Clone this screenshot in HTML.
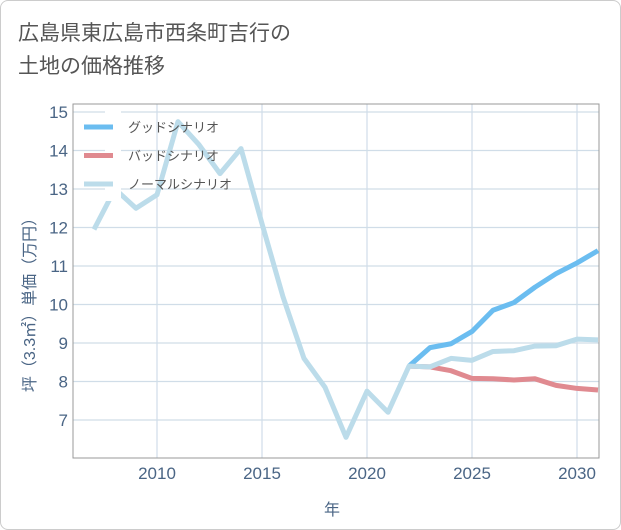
<!DOCTYPE html>
<html><head><meta charset="utf-8"><style>
body{margin:0;background:#fff;}
#wrap{position:relative;width:619px;height:528px;border:1px solid #ccc;border-radius:8px;overflow:hidden;font-family:"Liberation Sans","Noto Sans CJK JP",sans-serif;}
.title{position:absolute;left:17px;top:16px;font-size:21px;line-height:33px;color:#555;}
</style></head><body>
<div id="wrap">
<div class="title">広島県東広島市西条町吉行の<br>土地の価格推移</div>
<svg id="chart" width="621" height="530" style="position:absolute;left:0;top:0"></svg>
</div>
<script>
const years=[2007,2008,2009,2010,2011,2012,2013,2014,2015,2016,2017,2018,2019,2020,2021,2022,2023,2024,2025,2026,2027,2028,2029,2030,2031];
const normal=[11.95,13.0,12.5,12.85,14.75,14.15,13.4,14.05,12.1,10.2,8.6,7.85,6.55,7.75,7.2,8.4,8.38,8.6,8.55,8.78,8.8,8.92,8.93,9.1,9.08];
const goodYears=[2022,2023,2024,2025,2026,2027,2028,2029,2030,2031];
const good=[8.4,8.88,8.98,9.3,9.85,10.05,10.45,10.8,11.08,11.4];
const bad=[8.4,8.38,8.28,8.08,8.07,8.04,8.07,7.9,7.82,7.78];
const xTicks=[2010,2015,2020,2025,2030];
const yTicks=[7,8,9,10,11,12,13,14,15];
const L=72,R=598,T=103,B=457;
const x=v=>156+(v-2010)*21;
const y=v=>111+(15-v)*38.5;
const svg=document.getElementById('chart');
const NS='http://www.w3.org/2000/svg';
function mk(tag,attrs,parent){const e=document.createElementNS(NS,tag);for(const k in attrs)e.setAttribute(k,attrs[k]);(parent||svg).appendChild(e);return e;}
xTicks.forEach(t=>{
 const g=mk('line',{x1:x(t),x2:x(t),y1:T,y2:B,stroke:'#d0dde8','stroke-width':1.2});
 
 
 const tx=mk('text',{x:x(t),y:478,'text-anchor':'middle','font-size':17,fill:'#4a6585'});
 tx.textContent=t;
 
 
});
yTicks.forEach(t=>{
 const g=mk('line',{x1:L,x2:R,y1:y(t),y2:y(t),stroke:'#d0dde8','stroke-width':1.2});
 
 
 const tx=mk('text',{x:67,y:y(t)+6,'text-anchor':'end','font-size':17,fill:'#4a6585'});
 tx.textContent=t;
 
 
});
const frame=mk('rect',{x:L,y:T,width:R-L,height:B-T,fill:'none',stroke:'#999','stroke-width':1});


const clip=mk('clipPath',{id:'cp'});mk('rect',{x:L,y:T,width:R-L,height:B-T},clip);
function line(xs,vs,color,name){
 const p=mk('polyline',{points:vs.map((v,i)=>x(xs[i])+','+y(v)).join(' '),fill:'none',stroke:color,'stroke-width':5,'stroke-linejoin':'round','clip-path':'url(#cp)'});
 
 
}
line(goodYears,bad,'#e08a90','bad-scenario-line');
line(goodYears,good,'#6bbdf0','good-scenario-line');
line(years,normal,'#bcdcea','normal-scenario-line');
const lb=mk('rect',{x:104,y:108,width:16,height:92,fill:'#fff'});


[['グッドシナリオ','#6bbdf0'],['バッドシナリオ','#e08a90'],['ノーマルシナリオ','#bcdcea']].forEach((d,i)=>{
 const yy=126+i*28.5;
 const g=mk('g',{});
 
 
 mk('line',{x1:83,x2:112,y1:yy,y2:yy,stroke:d[1],'stroke-width':5},g);
 const t=mk('text',{x:127,y:yy+5,'font-size':13,fill:'#555'},g);t.textContent=d[0];
});
const xt=mk('text',{x:331,y:514,'text-anchor':'middle','font-size':16,fill:'#4a6585'});
xt.textContent='年';


const yt=mk('text',{x:0,y:0,'text-anchor':'middle','font-size':16,fill:'#4a6585',transform:'translate(34,300) rotate(-90)'});
yt.textContent='坪（3.3㎡）単価（万円）';


</script>
</body></html>
